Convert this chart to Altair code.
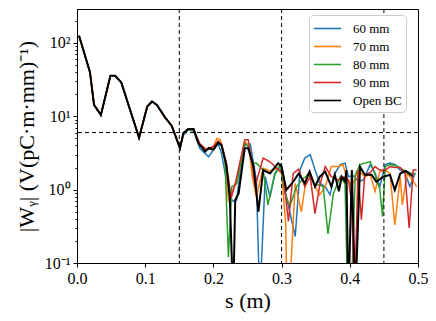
import altair as alt
import pandas as pd

names = ["60 mm", "70 mm", "80 mm", "90 mm", "Open BC"]
colors = ["#1f77b4", "#ff7f0e", "#2ca02c", "#d62728", "#000000"]

# shared early part (s < 0.15), all curves coincide
s_early = [0.003, 0.019, 0.025, 0.035, 0.049, 0.056, 0.065, 0.091, 0.103, 0.110, 0.117, 0.130, 0.139, 0.151]
v_early = [125, 40, 14.3, 10.4, 35.6, 35.6, 28.8, 5.1, 13.6, 15.9, 14.3, 9.4, 7.4, 3.67]

s_60 = [0.156, 0.163, 0.171, 0.180, 0.193, 0.200, 0.207, 0.212, 0.219, 0.224, 0.229, 0.234, 0.239, 0.246, 0.254,
        0.263, 0.268, 0.276, 0.283, 0.290, 0.298, 0.307, 0.320, 0.327, 0.334, 0.342, 0.349, 0.356, 0.364, 0.371,
        0.378, 0.386, 0.393, 0.398, 0.405, 0.412, 0.420, 0.430, 0.437, 0.444, 0.452, 0.459, 0.466, 0.474, 0.481,
        0.488, 0.496]
v_60 = [5.5, 6.5, 6.3, 3.67, 2.8, 3.5, 4.2, 3.1, 1.35, 0.8, 0.69, 0.72, 1.66, 4.0, 4.2,
        1.35, 0.03, 1.5, 0.8, 1.6, 2.06, 0.8, 0.23, 1.85, 2.7, 3.0, 1.85, 1.22, 1.1, 0.85,
        1.66, 2.2, 2.3, 1.5, 1.55, 1.3, 1.35, 2.2, 1.7, 1.1, 2.2, 2.3, 2.2, 1.85, 1.7,
        1.1, 1.7]

s_70 = [0.156, 0.163, 0.171, 0.180, 0.190, 0.200, 0.205, 0.210, 0.217, 0.222, 0.229, 0.235, 0.246, 0.252, 0.257,
        0.263, 0.273, 0.283, 0.293, 0.300, 0.306, 0.308, 0.311, 0.320, 0.329, 0.337, 0.342, 0.349, 0.356, 0.364,
        0.373, 0.383, 0.390, 0.395, 0.403, 0.412, 0.422, 0.430, 0.437, 0.444, 0.452, 0.459, 0.466, 0.474, 0.477,
        0.484, 0.491, 0.498]
v_70 = [5.9, 6.7, 6.5, 4.2, 3.5, 3.8, 5.0, 4.8, 2.5, 0.72, 1.0, 1.3, 4.5, 4.0, 1.5,
        0.8, 1.96, 1.8, 1.96, 1.66, 0.35, 0.03, 0.03, 1.22, 0.5, 1.6, 1.7, 1.1, 0.85, 1.1,
        2.06, 2.06, 2.2, 1.5, 1.1, 1.85, 1.5, 1.6, 0.95, 1.75, 1.85, 1.66, 0.33, 1.5, 0.62,
        1.66, 1.4, 1.1]

s_80 = [0.156, 0.163, 0.171, 0.180, 0.190, 0.200, 0.207, 0.212, 0.217, 0.222, 0.227, 0.234, 0.246, 0.252, 0.257,
        0.263, 0.273, 0.280, 0.290, 0.298, 0.305, 0.312, 0.322, 0.332, 0.340, 0.349, 0.356, 0.361, 0.368, 0.376,
        0.386, 0.393, 0.397, 0.402, 0.408, 0.415, 0.422, 0.430, 0.437, 0.444, 0.448, 0.452, 0.459, 0.469, 0.479,
        0.488, 0.496]
v_80 = [5.9, 6.5, 6.5, 4.0, 3.5, 3.6, 4.4, 4.0, 2.5, 0.12, 1.1, 1.2, 4.3, 3.8, 2.3,
        2.3, 1.85, 0.62, 1.66, 2.2, 0.89, 0.59, 1.1, 1.43, 1.6, 1.16, 1.16, 1.1, 0.25, 0.89,
        1.5, 1.2, 0.03, 0.03, 1.6, 2.2, 2.3, 2.4, 1.6, 1.0, 0.43, 2.06, 2.2, 2.1, 1.85,
        1.7, 1.6]

s_90 = [0.156, 0.163, 0.171, 0.180, 0.190, 0.200, 0.207, 0.212, 0.219, 0.226, 0.232, 0.246, 0.251, 0.256, 0.261,
        0.273, 0.283, 0.293, 0.302, 0.310, 0.317, 0.325, 0.334, 0.342, 0.349, 0.356, 0.364, 0.373, 0.383, 0.390,
        0.398, 0.403, 0.407, 0.412, 0.417, 0.422, 0.430, 0.437, 0.444, 0.452, 0.459, 0.466, 0.474, 0.481, 0.487,
        0.493, 0.498]
v_90 = [5.9, 6.7, 6.5, 4.2, 3.5, 3.9, 4.6, 4.2, 2.3, 0.77, 1.2, 4.8, 4.8, 2.5, 1.1,
        2.7, 2.4, 1.96, 1.66, 0.37, 1.66, 1.9, 1.1, 1.5, 0.47, 1.16, 2.06, 1.5, 1.35, 1.5,
        1.35, 0.65, 0.03, 1.85, 0.39, 1.6, 1.7, 2.06, 1.85, 1.85, 2.06, 2.0, 2.0, 1.66, 0.3,
        1.85, 1.85]

s_bc = [0.156, 0.163, 0.171, 0.178, 0.188, 0.193, 0.200, 0.207, 0.212, 0.219, 0.224, 0.229, 0.232, 0.237, 0.246,
        0.251, 0.259, 0.266, 0.273, 0.283, 0.295, 0.300, 0.307, 0.317, 0.325, 0.334, 0.341, 0.349, 0.356, 0.364,
        0.373, 0.378, 0.384, 0.388, 0.393, 0.395, 0.398, 0.403, 0.408, 0.415, 0.422, 0.432, 0.439, 0.449, 0.459,
        0.466, 0.474, 0.482, 0.492]
v_bc = [5.9, 6.7, 6.7, 4.3, 3.3, 3.7, 3.5, 4.4, 4.0, 2.17, 0.8, 0.03, 0.72, 0.89, 3.67,
        3.67, 2.06, 0.5, 1.85, 1.66, 2.29, 2.06, 0.99, 1.28, 1.66, 1.22, 1.76, 1.1, 1.5, 1.76,
        1.1, 1.6, 0.95, 1.5, 1.3, 1.85, 0.03, 1.85, 0.03, 2.06, 1.6, 1.6, 1.28, 1.5, 1.59,
        0.99, 1.66, 1.8, 1.52]

v_lines = [0.15, 0.30, 0.45]
h_lines = [6.0]

x_ticks = [0, 0.1, 0.2, 0.3, 0.4, 0.5]
y_ticks = [0.1, 0.2, 0.3, 0.4, 0.5, 0.6, 0.7, 0.8, 0.9,
           1, 2, 3, 4, 5, 6, 7, 8, 9,
           10, 20, 30, 40, 50, 60, 70, 80, 90,
           100, 200]

rows = []
for name, ss, vv in [("60 mm", s_60, v_60), ("70 mm", s_70, v_70), ("80 mm", s_80, v_80), ("90 mm", s_90, v_90)]:
    for s, v in zip(s_early + ss, v_early + vv):
        rows.append({"s": s, "w": v, "series": name})
df_col = pd.DataFrame(rows)
df_bc = pd.DataFrame({"s": s_early + s_bc, "w": v_early + v_bc, "series": "Open BC"})

FONT = "Liberation Serif"
MAJOR = "abs(log(datum.value)/LN10 - round(log(datum.value)/LN10)) < 0.001"

xenc = alt.X("s:Q", scale=alt.Scale(domain=[0, 0.5], nice=False, zero=False),
             axis=alt.Axis(values=x_ticks, format=".1f", title="s (m)", labelFlush=False))
yenc = alt.Y("w:Q", scale=alt.Scale(type="log", domain=[0.1, 290], nice=False),
             axis=alt.Axis(values=y_ticks, title="|Wᵧ| (V(pC·m·mm)⁻¹)", labelFlush=False,
                           tickSize={"condition": {"test": MAJOR, "value": 4}, "value": 2},
                           labelExpr="abs(datum.value - 0.1) < 1e-6 ? '10⁻¹' : datum.value == 1 ? '10⁰' : datum.value == 10 ? '10¹' : datum.value == 100 ? '10²' : ''"))
cenc = alt.Color("series:N", scale=alt.Scale(domain=names, range=colors),
                 legend=alt.Legend(title=None, orient="none", legendX=232, legendY=6,
                                   symbolType="M-1.6,0H1.6", symbolSize=289, symbolStrokeWidth=1.6,
                                   symbolOffset=5,
                                   labelFont=FONT, labelFontSize=13, labelColor="black",
                                   padding=4, rowPadding=1, labelOffset=16,
                                   strokeColor="#cccccc", cornerRadius=4, fillColor="white"))

colored = alt.Chart(df_col).mark_line(clip=True, strokeWidth=1.5).encode(x=xenc, y=yenc, color=cenc)
black = alt.Chart(df_bc).mark_line(clip=True, strokeWidth=2).encode(x=xenc, y=yenc, color=cenc)
vr = alt.Chart(pd.DataFrame({"s": v_lines})).mark_rule(color="black", strokeDash=[4, 3], strokeWidth=1).encode(x="s:Q")
hr = alt.Chart(pd.DataFrame({"w": h_lines})).mark_rule(color="black", strokeDash=[4, 3], strokeWidth=1).encode(y="w:Q")

chart = alt.layer(colored, black, vr, hr).properties(
    width=341, height=254, autosize="none",
    padding={"left": 69, "top": 1, "right": 10, "bottom": 50},
).configure_view(stroke="black", strokeWidth=1).configure_axis(
    grid=False, domainColor="black", tickColor="black", labelColor="black", titleColor="black",
    labelFont=FONT, titleFont=FONT, labelFontSize=16, titleFontSize=22, titleFontWeight="normal",
    labelPadding=3,
).configure_axisX(titlePadding=4, tickSize=4).configure_axisY(titlePadding=6)

chart.save("out.html", embed_options={"renderer": "svg", "actions": False})
